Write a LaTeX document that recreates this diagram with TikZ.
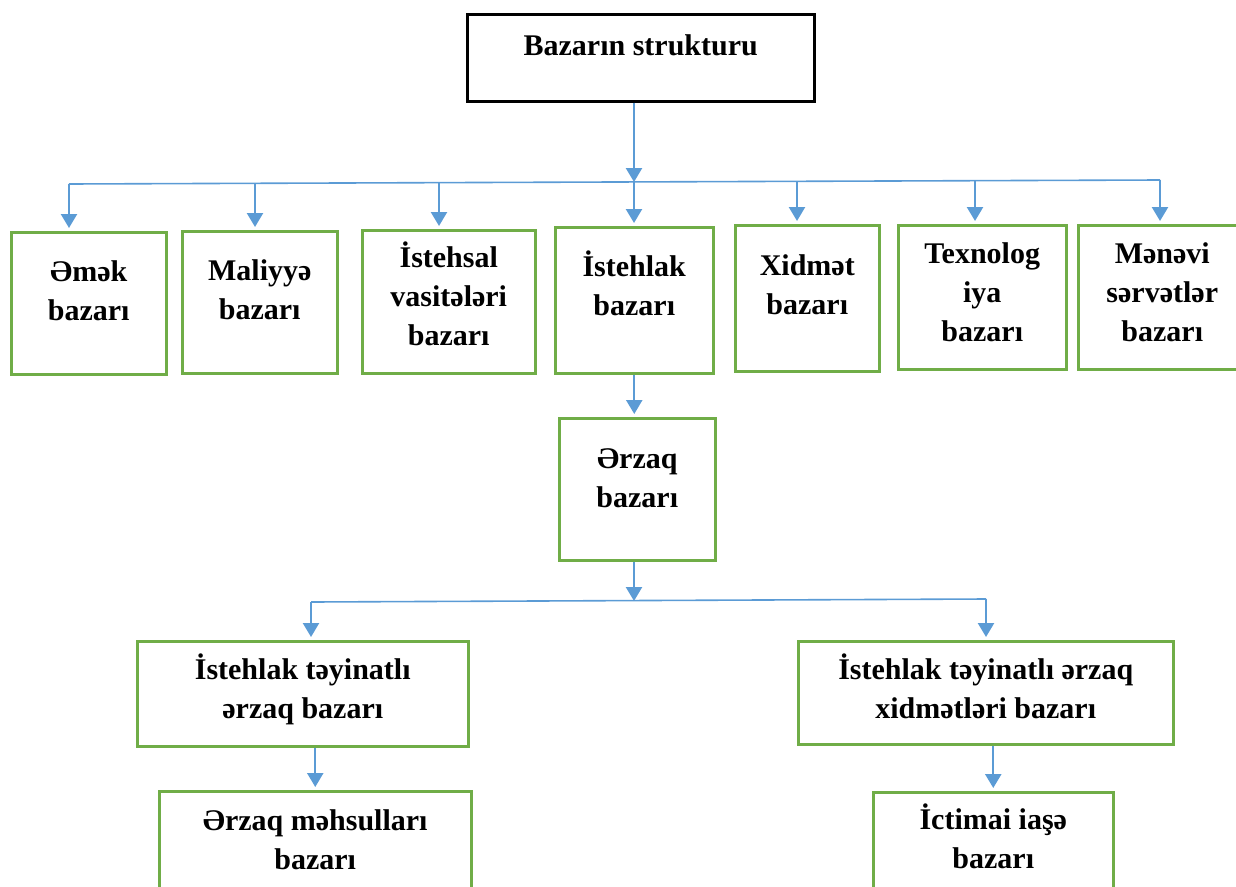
\documentclass[tikz,border=0pt]{standalone}
\usepackage{fontspec}
\setmainfont{Liberation Serif}
\usetikzlibrary{arrows.meta}
\definecolor{yasil}{RGB}{112, 173, 71}
\definecolor{mavi}{RGB}{91, 155, 213}
\newcommand{\mktext}[4][11pt]{\parbox[c][#3][t]{#2}{\centering\vspace*{#1}\strut#4}}
\tikzset{
    root/.style={draw=black, line width=2.5pt, inner sep=0pt, anchor=north west},
    mkt/.style={draw=yasil, line width=2.5pt, inner sep=0pt, anchor=north west},
    arr/.style={-{Triangle[width=16pt,length=14pt]}, mavi, line width=2.4pt, shorten >=3pt},
    conn/.style={-, mavi, line width=1.6pt},
}

\begin{document}
\begin{tikzpicture}[x=1pt, y=-1pt, font=\bfseries\fontsize{30}{39}\selectfont]
    \useasboundingbox (0,0) rectangle (1236,886);

    \node[root] (top) at (466,13) {\mktext[14pt]{347pt}{87pt}{Bazarın strukturu}};

    \node[mkt] (emek) at (10,231) {\mktext[22pt]{155pt}{142pt}{Əmək\\bazarı}};
    \node[mkt] (maliyye) at (181,230) {\mktext[22pt]{155pt}{142pt}{Maliyyə\\bazarı}};
    \node[mkt] (istehsal) at (361,229) {\mktext[10pt]{173pt}{143pt}{İstehsal\\vasitələri\\bazarı}};
    \node[mkt] (istehlak) at (554,226) {\mktext[22pt]{158pt}{146pt}{İstehlak\\bazarı}};
    \node[mkt] (xidmet) at (734,224) {\mktext[23pt]{144pt}{146pt}{Xidmət\\bazarı}};
    \node[mkt] (texno) at (897,224) {\mktext[11pt]{168pt}{144pt}{Texnolog\\iya\\bazarı}};
    \node[mkt] (menevi) at (1077,224) {\mktext[11pt]{168pt}{144pt}{Mənəvi\\sərvətlər\\bazarı}};

    \node[mkt] (erzaq) at (558,417) {\mktext[23pt]{156pt}{142pt}{Ərzaq\\bazarı}};

    \node[mkt] (tey) at (136,640) {\mktext[11pt]{331pt}{105pt}{İstehlak təyinatlı\\ərzaq bazarı}};
    \node[mkt] (xid) at (797,640) {\mktext[11pt]{375pt}{103pt}{İstehlak təyinatlı ərzaq\\xidmətləri bazarı}};
    \node[mkt] (mehsul) at (158,790) {\mktext[12pt]{312pt}{110pt}{Ərzaq məhsulları\\bazarı}};
    \node[mkt] (iase) at (872,791) {\mktext[10pt]{240pt}{110pt}{İctimai iaşə\\bazarı}};

    \coordinate (bl) at (69,184);
    \coordinate (br) at (1160,180);
    \coordinate (b0) at (634,182);
    \draw[arr, shorten >=0pt] (top.south -| b0) -- (b0);
    \draw[conn] (bl) -- (br);
    \foreach \x/\y/\n in {69/184/emek, 255/183/maliyye, 439/183/istehsal, 634/182/istehlak, 797/181/xidmet, 975/181/texno, 1160/180/menevi}{
        \coordinate (d\n) at (\x,\y);
        \draw[arr] (d\n) -- (d\n |- \n.north);
    }

    \draw[arr] (istehlak.south) -- (istehlak.south |- erzaq.north);

    \coordinate (cl) at (311,602);
    \coordinate (cr) at (986,599);
    \coordinate (c0) at (634,601);
    \draw[arr, shorten >=0pt] (erzaq.south -| c0) -- (c0);
    \draw[conn] (cl) -- (cr);
    \draw[arr] (cl) -- (cl |- tey.north);
    \draw[arr] (cr) -- (cr |- xid.north);

    \draw[arr] (mehsul.north |- tey.south) -- (mehsul.north);
    \draw[arr] (iase.north |- xid.south) -- (iase.north);
\end{tikzpicture}
\end{document}
